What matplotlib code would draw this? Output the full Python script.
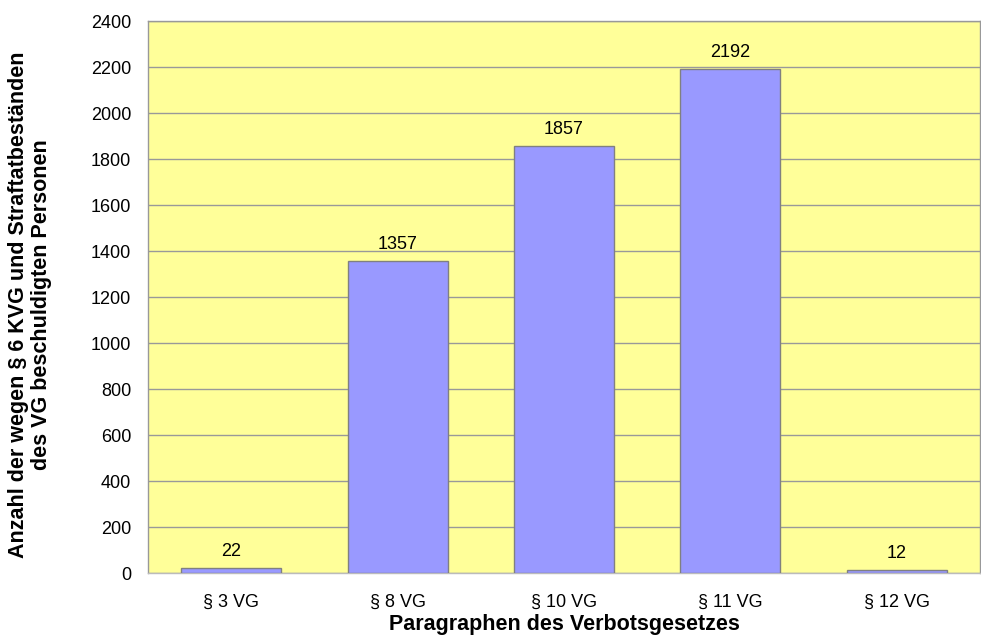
import matplotlib.pyplot as plt

categories = ['§ 3 VG', '§ 8 VG', '§ 10 VG', '§ 11 VG', '§ 12 VG']
values = [22, 1357, 1857, 2192, 12]
y_ticks = list(range(0, 2401, 200))

plt.rcParams['font.family'] = ['Liberation Sans', 'DejaVu Sans']

fig = plt.figure(figsize=(9.81, 6.39), dpi=100)
ax = fig.add_axes([148 / 981, 1 - 573 / 639, (980 - 148) / 981, (573 - 21) / 639])

ax.set_facecolor('#FFFF99')
x = range(len(categories))
bars = ax.bar(x, values, width=0.6, color='#9999FF', edgecolor='#808080', linewidth=1, zorder=3)
for b, v in zip(bars, values):
    ax.text(b.get_x() + b.get_width() / 2, v + 35, str(v), ha='center', va='bottom', fontsize=13, zorder=4)

ax.set_xlim(-0.5, len(categories) - 0.5)
ax.set_ylim(0, 2400)
ax.set_yticks(y_ticks)
ax.set_xticks(list(x))
ax.set_xticklabels(categories, fontsize=13)
ax.tick_params(axis='y', labelsize=13, length=0, pad=12)
ax.tick_params(axis='x', length=0, pad=15)
ax.grid(axis='y', color='#999999', linewidth=1, zorder=1)

for s in ax.spines.values():
    s.set_color('#999999')
    s.set_linewidth(1)
ax.spines['bottom'].set_color('#bbbbbb')

ax.set_xlabel('Paragraphen des Verbotsgesetzes', fontsize=15.5, fontweight='bold', labelpad=2)
fig.text(30 / 981, 1 - 305 / 639, 'Anzahl der wegen § 6 KVG und Straftatbeständen\ndes VG beschuldigten Personen',
         rotation=90, ha='center', va='center', fontsize=15.5, fontweight='bold', multialignment='center',
         linespacing=1.15)

fig.savefig('out.png', dpi=100)
